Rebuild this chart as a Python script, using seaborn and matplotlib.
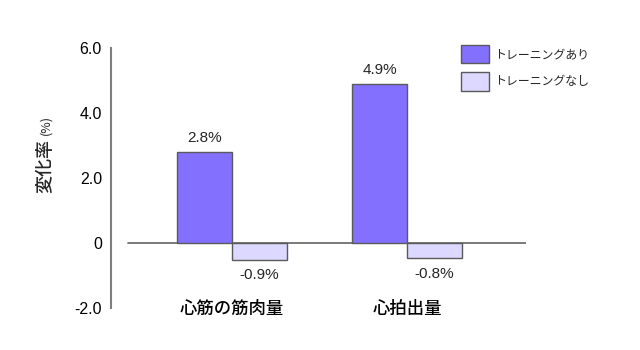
import matplotlib
matplotlib.use("Agg")
import matplotlib.pyplot as plt
import seaborn as sns
import pandas as pd

# ---- data ----
categories = ["心筋の筋肉量", "心拍出量"]
groups = ["トレーニングあり", "トレーニングなし"]
with_training = [2.8, 4.9]
without_training = [-0.52, -0.47]          # bar lengths as drawn in the picture
label_with = ["2.8%", "4.9%"]
label_without = ["-0.9%", "-0.8%"]
yticks = [-2.0, 0, 2.0, 4.0, 6.0]
ytick_labels = ["-2.0", "0", "2.0", "4.0", "6.0"]

colors = ["#8470FF", "#DCD8FF"]
edge = "#5a5a5a"

sns.set_theme(style="white")
plt.rcParams["font.family"] = ["Liberation Sans", "Noto Sans CJK JP", "DejaVu Sans"]
jp = ["Noto Sans CJK JP", "DejaVu Sans"]

df = pd.DataFrame({
    "category": categories * 2,
    "group": [groups[0]] * 2 + [groups[1]] * 2,
    "value": with_training + without_training,
})

fig = plt.figure(figsize=(6.4, 3.5), dpi=100)
ax = fig.add_axes([111 / 640, 1 - 308 / 350, (526 - 111) / 640, (308 - 48) / 350])

sns.barplot(data=df, x="category", y="value", hue="group", hue_order=groups,
            order=categories, palette=colors, width=0.628, gap=0,
            edgecolor=edge, linewidth=1.0, saturation=1, ax=ax, zorder=3)

handles, labels = ax.get_legend_handles_labels()
if ax.get_legend() is not None:
    ax.get_legend().remove()

ax.set_xlim(-0.691, 1.68)
ax.set_ylim(-2.0, 6.0)
ax.set_yticks(yticks)
ax.set_yticklabels(ytick_labels, fontsize=11.5, color="black")
ax.tick_params(axis="y", length=0, pad=6.5)
ax.set_xlabel("")
ax.set_ylabel("")
ax.set_xticks(range(len(categories)))
ax.set_xticklabels(categories, family=jp, fontsize=12.5, fontweight="medium", color="black")
ax.tick_params(axis="x", length=0, pad=-6)

for s in ["top", "right", "bottom"]:
    ax.spines[s].set_visible(False)
ax.spines["left"].set_color("#808080")
ax.spines["left"].set_linewidth(1.5)

ax.axhline(0, xmin=(128 - 111) / (526 - 111), xmax=1, color="#707070", lw=1.3, zorder=2)

# value labels
for cont, labs in zip(ax.containers, [label_with, label_without]):
    for rect, lab in zip(cont, labs):
        x = rect.get_x() + rect.get_width() / 2
        top = max(rect.get_y(), rect.get_y() + rect.get_height())
        bottom = min(rect.get_y(), rect.get_y() + rect.get_height())
        if top > 0:
            ax.annotate(lab, (x, top), xytext=(0, 5),
                        textcoords="offset points", ha="center", va="bottom",
                        fontsize=11)
        else:
            ax.annotate(lab, (x, bottom), xytext=(0, -6),
                        textcoords="offset points", ha="center", va="top",
                        fontsize=11)

# y label
fig.text(45 / 640, 1 - 166 / 350, "変化率", rotation=90, ha="center", va="center",
         family=jp, fontsize=13, fontweight="medium")
fig.text(46 / 640, 1 - 125 / 350, "(%)", rotation=90, ha="center", va="center",
         family=jp, fontsize=9)

fig.legend(handles, labels, loc="upper left", bbox_to_anchor=(461 / 640, 1 - 45 / 350),
           frameon=False, borderpad=0, borderaxespad=0, prop={"family": jp, "size": 8.6},
           handlelength=2.35, handleheight=2.0, handletextpad=0.45, labelspacing=0.75)

fig.savefig("out.png", dpi=100)
